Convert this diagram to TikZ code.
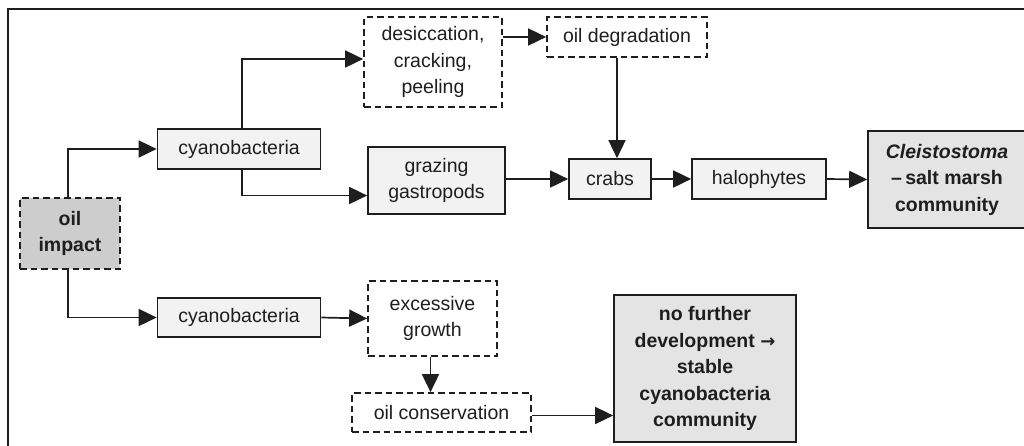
\documentclass[tikz,border=0pt]{standalone}
\usepackage{fontspec}
\setmainfont{Liberation Sans}
\newfontfamily\arrowfont{DejaVu Sans}
\usetikzlibrary{arrows.meta,calc}
\definecolor{ink}{HTML}{1E1E1E}
\definecolor{paleg}{HTML}{F2F2F2}
\definecolor{midg}{HTML}{E4E4E4}
\definecolor{darkg}{HTML}{CDCDCD}
\begin{document}
\begin{tikzpicture}[x=1pt,y=-1pt,
  every node/.style={font=\fontsize{19.5}{26.5}\selectfont, text=ink, inner sep=0pt, align=center},
  box/.style={draw=ink, line width=1.7pt},
  solidbox/.style={box, fill=paleg},
  dashbox/.style={box, fill=white, dash pattern=on 6.5pt off 4pt},
  keybox/.style={box, fill=midg, font=\fontsize{19.5}{26.5}\selectfont\bfseries},
  arr/.style={draw=ink, line width=1.7pt, -{Triangle[length=18pt,width=17pt]}}
]
\useasboundingbox (0,0) rectangle (1024,445);
% outer frame
\draw[ink, line width=1.8pt] (8,460) -- (8,9) -- (1040,9);

% nodes
\node[dashbox, fill=darkg, font=\fontsize{19.5}{26.5}\selectfont\bfseries,
      minimum width=100pt, minimum height=71pt] (impact) at (70,233.5) {oil\\impact};
\node[solidbox, minimum width=163pt, minimum height=40pt] (cyanA) at (239,149) {cyanobacteria};
\node[dashbox, minimum width=138pt, minimum height=90pt] (desic) at (433,62) {desiccation,\\cracking,\\peeling};
\node[dashbox, minimum width=160pt, minimum height=40pt] (oildeg) at (627,37) {oil degradation};
\node[solidbox, minimum width=137pt, minimum height=67pt] (graz) at (436.5,180.5) {grazing\\gastropods};
\node[solidbox, minimum width=82pt, minimum height=40pt] (crabs) at (610,179) {crabs};
\node[solidbox, minimum width=134pt, minimum height=40pt] (halo) at (759,179) {halophytes};
\node[keybox, minimum width=158pt, minimum height=97pt] (cleis) at (947,179.5)
     {\textit{Cleistostoma}\\–\,salt marsh\\community};
\node[solidbox, minimum width=163pt, minimum height=39pt] (cyanB) at (239,317.5) {cyanobacteria};
\node[dashbox, minimum width=129pt, minimum height=75pt] (exc) at (432.5,318.5) {excessive\\growth};
\node[dashbox, minimum width=179pt, minimum height=39pt] (cons) at (441.5,412.5) {oil conservation};
\node[keybox, minimum width=182pt, minimum height=147pt] (nofur) at (705,368.5)
     {no further\\development {\arrowfont\fontsize{18}{26.5}\selectfont →}\\stable\\cyanobacteria\\community};

% arrow anchor points off the box centre lines
\coordinate (consOut) at ($(cons.east)+(0,3)$);

% connectors
\draw[arr] ([xshift=-2pt]impact.north) |- (cyanA.west);
\draw[arr] ([xshift=-2pt]impact.south) |- (cyanB.west);
\draw[arr] ([xshift=3pt]cyanA.north) |- ($(desic.west)+(0,-3)$);
\draw[arr] ([xshift=3pt]cyanA.south) |- ($(graz.west)+(0,15)$);
\draw[arr] (desic.east |- oildeg.west) -- (oildeg.west);
\draw[arr] ([xshift=-10pt]oildeg.south) -- ([xshift=7pt]crabs.north);
\draw[arr] (graz.east |- crabs.west) -- (crabs.west);
\draw[arr] (crabs.east) -- (halo.west);
\draw[arr] (halo.east) -- (cleis.west);
\draw[arr] (cyanB.east) -- (exc.west);
\draw[arr] ([xshift=-2pt]exc.south) -- ([xshift=-2pt]exc.south |- cons.north);
\draw[arr] (consOut) -- (consOut -| nofur.west);
\end{tikzpicture}
\end{document}
